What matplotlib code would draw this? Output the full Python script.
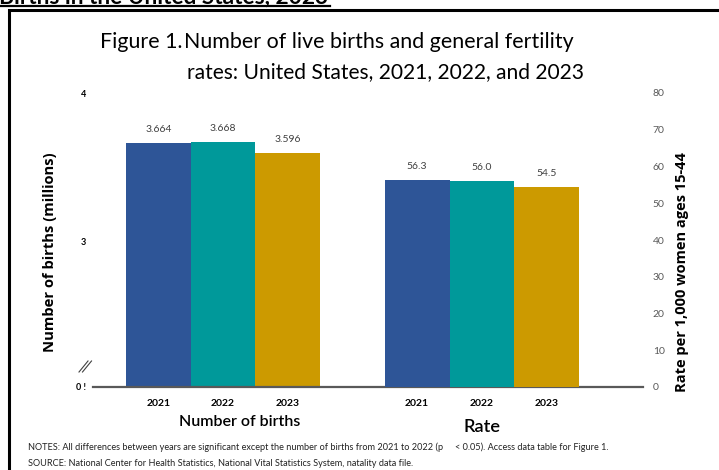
import matplotlib
matplotlib.use("Agg")
import matplotlib.pyplot as plt
from matplotlib.lines import Line2D

# ---- data ----
years = ["2021", "2022", "2023"]
births_millions = [3.664, 3.668, 3.596]
birth_labels = ["3.664", "3.668", "3.596"]
fertility_rate = [56.3, 56.0, 54.5]
rate_labels = ["56.3", "56.0", "54.5"]
group_names = ["Number of births", "Rate"]
left_ticks = [3, 4]
right_ticks = [0, 10, 20, 30, 40, 50, 60, 70, 80]

colors = ["#2E5597", "#00999A", "#CC9A00"]
CAL = ["Lato", "DejaVu Sans"]
BOLD = ["Open Sans", "DejaVu Sans"]

W, H = 719, 470
fig = plt.figure(figsize=(W / 100, H / 100), dpi=100)


def fx(x):
    return x / W


def fy(y):
    return 1 - y / H


renderer = fig.canvas.get_renderer()


def fit(t, target, dim="w"):
    for _ in range(3):
        bb = t.get_window_extent(renderer)
        cur = bb.width if dim == "w" else bb.height
        if cur > 0:
            t.set_fontsize(t.get_fontsize() * target / cur)


# axes: x from 93 to 643 px, y from 387 (0) to 93 (80)
axL = fig.add_axes([fx(93), fy(387), (643 - 93) / W, (387 - 93) / H])
axR = axL.twinx()

low = 2.025
axL.set_ylim(low, 4.0)
axR.set_ylim(0, 80)
axL.set_xlim(-1.01, 7.49)

pos_b = [0, 1, 2]
pos_r = [4, 5, 6]

axL.bar(pos_b, [v - low for v in births_millions], bottom=low, width=1.0,
        color=colors, zorder=2)
axR.bar(pos_r, fertility_rate, width=1.0, color=colors, zorder=2)

for x, v, lab in zip(pos_b, births_millions, birth_labels):
    axL.annotate(lab, (x, v), xytext=(0, 6.5), textcoords="offset points",
                 ha="center", va="bottom", fontsize=7.5, color="#404040",
                 family=CAL)
for x, v, lab in zip(pos_r, fertility_rate, rate_labels):
    axR.annotate(lab, (x, v), xytext=(0, 6.5), textcoords="offset points",
                 ha="center", va="bottom", fontsize=7.5, color="#404040",
                 family=CAL)

for a in (axL, axR):
    for s in a.spines.values():
        s.set_visible(False)
axL.spines["bottom"].set_visible(True)
axL.spines["bottom"].set_color("#595959")
axL.spines["bottom"].set_linewidth(1.6)
axL.spines["bottom"].set_zorder(3)

axL.set_xticks(pos_b + pos_r)
axL.set_xticklabels(years + years, fontsize=7.5, fontweight="bold",
                    family=CAL)
axL.tick_params(axis="x", length=0, pad=9)

axL.set_yticks([low] + left_ticks)
axL.set_yticklabels(["0 !"] + [str(t) for t in left_ticks], fontsize=6.5,
                    fontweight="bold", family=CAL)
axL.tick_params(axis="y", length=0, pad=5)

axR.set_yticks(right_ticks)
axR.set_yticklabels([str(t) for t in right_ticks], fontsize=7.5,
                    color="#595959", family=CAL)
axR.tick_params(axis="y", length=0, pad=7)

# axis break marks
for dx in (0, 3.5):
    fig.add_artist(Line2D([fx(79 + dx), fx(88 + dx)], [fy(372), fy(361)],
                          color="#404040", lw=0.8))

# group labels
t = fig.text(fx(240), fy(422), group_names[0], ha="center", va="center",
             family=CAL, fontsize=14, fontweight="semibold")
fit(t, 122)
t = fig.text(fx(482), fy(427), group_names[1], ha="center", va="center",
             family=CAL, fontsize=14, fontweight="semibold")
fit(t, 37)

# y labels
t = fig.text(fx(50), fy(252), "Number of births (millions)", rotation=90,
             ha="center", va="center", family=BOLD, fontweight="bold",
             fontsize=9)
fit(t, 201, "h")
t = fig.text(fx(682), fy(272), "Rate per 1,000 women ages 15-44", rotation=90,
             ha="center", va="center", family=BOLD, fontweight="bold",
             fontsize=9)
fit(t, 239, "h")

# title
t1 = fig.text(fx(100), fy(42), "Figure 1.", ha="left", va="center",
              family=CAL, fontsize=17)
t1b = fig.text(fx(184), fy(42), "Number of live births and general fertility",
               ha="left", va="center", family=CAL, fontsize=17)
fit(t1b, 388)
t1.set_fontsize(t1b.get_fontsize())
t2 = fig.text(fx(187), fy(72), "rates: United States, 2021, 2022, and 2023",
              ha="left", va="center", family=CAL, fontsize=17)
fit(t2, 398)

# notes
t = fig.text(fx(28), fy(447),
             "NOTES: All differences between years are significant except the number of births from 2021 to 2022 (p     < 0.05). Access data table for Figure 1.",
             ha="left", va="center", family=CAL, fontsize=6.5, color="#222222")
fit(t, 575)
t = fig.text(fx(28), fy(463),
             "SOURCE: National Center for Health Statistics, National Vital Statistics System, natality data file.",
             ha="left", va="center", family=CAL, fontsize=6.5, color="#222222")
fit(t, 384)

# cut-off header above the frame
th = fig.text(fx(-1), fy(3.5), "Births in the United States, 2023", ha="left",
              va="baseline", family=CAL, fontsize=18, fontweight="bold")
fit(th, 328)
fig.add_artist(Line2D([fx(0), fx(330)], [fy(6), fy(6)], color="black",
                      lw=1.6))

# frame
fig.add_artist(Line2D([fx(8.5), fx(8.5), fx(719)], [fy(470), fy(9.5), fy(9.5)],
                      color="black", lw=2.2, solid_joinstyle="miter"))

fig.savefig("out.png", dpi=100)
